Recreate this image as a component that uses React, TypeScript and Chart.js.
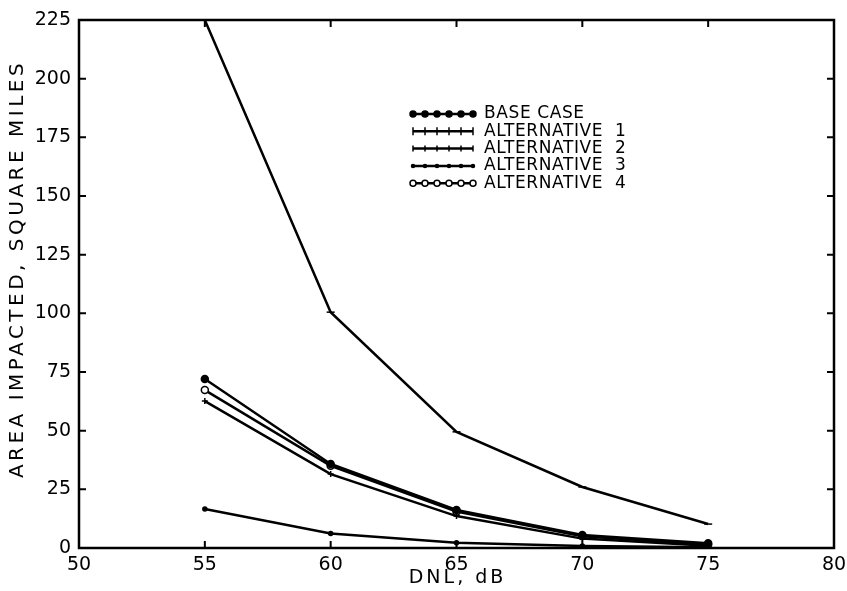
import React, { useEffect, useRef } from "react";
import { Chart, registerables } from "chart.js";

Chart.register(...registerables);

const dnl = [55, 60, 65, 70, 75];
const xTicks = [50, 55, 60, 65, 70, 75, 80];
const yTicks = [0, 25, 50, 75, 100, 125, 150, 175, 200, 225];

const baseCase = [72, 35.8, 16.2, 5.5, 2];
const alternative1 = [225, 100.5, 49.5, 26, 10.2];
const alternative2 = [62.6, 31.5, 13.6, 4, 1];
const alternative3 = [16.6, 6.2, 2.2, 0.8, 0.3];
const alternative4 = [67.3, 35, 15.5, 5, 1.5];

const seriesNames = ["BASE CASE", "ALTERNATIVE  1", "ALTERNATIVE  2", "ALTERNATIVE  3", "ALTERNATIVE  4"];
const xTitle = "DNL, dB";
const yTitle = "AREA IMPACTED, SQUARE MILES";

const FONT = "'DejaVu Sans', sans-serif";

type Marker = { style: string; radius: number; fill: string };
const markers: Marker[] = [
  { style: "circle", radius: 3.5, fill: "#000" },
  { style: "line", radius: 4, fill: "#000" },
  { style: "cross", radius: 3, fill: "#000" },
  { style: "circle", radius: 2, fill: "#000" },
  { style: "circle", radius: 3.5, fill: "#fff" },
];

const boxPlugin = {
  id: "boxTicks",
  afterDraw(chart: any) {
    const { ctx, chartArea, scales } = chart;
    const { left, right, top, bottom } = chartArea;
    ctx.save();
    ctx.strokeStyle = "#000";
    ctx.lineWidth = 2.5;
    ctx.strokeRect(left, top, right - left, bottom - top);
    ctx.lineWidth = 2;
    const t = 7;
    xTicks.forEach((v) => {
      const x = scales.x.getPixelForValue(v);
      ctx.beginPath();
      ctx.moveTo(x, bottom);
      ctx.lineTo(x, bottom - t);
      ctx.moveTo(x, top);
      ctx.lineTo(x, top + t);
      ctx.stroke();
    });
    yTicks.forEach((v) => {
      const y = scales.y.getPixelForValue(v);
      ctx.beginPath();
      ctx.moveTo(left, y);
      ctx.lineTo(left + t, y);
      ctx.moveTo(right, y);
      ctx.lineTo(right - t, y);
      ctx.stroke();
    });

    // axis titles
    ctx.fillStyle = "#000";
    ctx.textAlign = "center";
    ctx.textBaseline = "middle";
    ctx.font = `19px ${FONT}`;
    (ctx as any).letterSpacing = "3px";
    ctx.fillText(xTitle, (left + right) / 2 + 1, 578);
    ctx.save();
    ctx.font = `20px ${FONT}`;
    (ctx as any).letterSpacing = "3.5px";
    ctx.translate(18, (top + bottom) / 2 - 15);
    ctx.rotate(-Math.PI / 2);
    ctx.fillText(yTitle, 0, 0);
    ctx.restore();

    // legend
    const lx0 = 413;
    const lx1 = 473;
    const tx = 484;
    const y0 = 114;
    const dy = 17.3;
    ctx.font = `17px ${FONT}`;
    (ctx as any).letterSpacing = "0.6px";
    ctx.textAlign = "left";
    ctx.textBaseline = "middle";
    seriesNames.forEach((name, i) => {
      const y = y0 + i * dy;
      ctx.lineWidth = 2.5;
      ctx.beginPath();
      ctx.moveTo(lx0, y);
      ctx.lineTo(lx1, y);
      ctx.stroke();
      const m = markers[i];
      for (let k = 0; k < 6; k++) {
        const x = lx0 + (k * (lx1 - lx0)) / 5;
        ctx.lineWidth = 1.5;
        ctx.fillStyle = m.fill;
        if (m.style === "circle") {
          ctx.beginPath();
          ctx.arc(x, y, m.radius - 0.5, 0, Math.PI * 2);
          ctx.fill();
          ctx.stroke();
        } else {
          ctx.beginPath();
          ctx.moveTo(x, y - m.radius);
          ctx.lineTo(x, y + m.radius);
          ctx.stroke();
        }
      }
      ctx.fillStyle = "#000";
      ctx.fillText(name, tx, y);
    });
    ctx.restore();
  },
};

export default function App() {
  const ref = useRef<HTMLCanvasElement | null>(null);
  useEffect(() => {
    if (!ref.current) return;
    const sets = [baseCase, alternative1, alternative2, alternative3, alternative4];
    const chart = new Chart(ref.current, {
      type: "line",
      data: {
        datasets: sets.map((vals, i) => ({
          label: seriesNames[i],
          data: vals.map((v, j) => ({ x: dnl[j], y: v })),
          borderColor: "#000",
          borderWidth: 2.5,
          pointStyle: markers[i].style as any,
          pointRadius: markers[i].radius,
          pointBackgroundColor: markers[i].fill,
          pointBorderColor: "#000",
          pointBorderWidth: 1.5,
          tension: 0,
          fill: false,
        })),
      },
      options: {
        animation: false,
        responsive: false,
        layout: { padding: { top: 20, right: 13, left: 0, bottom: 0 } },
        plugins: { legend: { display: false }, tooltip: { enabled: false } },
        scales: {
          x: {
            type: "linear",
            min: 50,
            max: 80,
            afterBuildTicks: (s: any) => {
              s.ticks = xTicks.map((v) => ({ value: v }));
            },
            afterFit: (s: any) => {
              s.height = 43;
            },
            grid: { display: false },
            border: { display: false },
            ticks: { color: "#000", font: { family: FONT, size: 19 }, padding: -2, maxRotation: 0 },
            title: { display: false },
          },
          y: {
            type: "linear",
            min: 0,
            max: 225,
            afterBuildTicks: (s: any) => {
              s.ticks = yTicks.map((v) => ({ value: v }));
            },
            afterFit: (s: any) => {
              s.width = 79;
            },
            grid: { display: false },
            border: { display: false },
            ticks: { color: "#000", font: { family: FONT, size: 19 }, padding: 0 },
            title: { display: false },
          },
        },
      },
      plugins: [boxPlugin],
    });
    return () => chart.destroy();
  }, []);
  return (
    <div style={{ position: "fixed", left: 0, top: 0, width: 847, height: 591, background: "#fff" }}>
      <canvas ref={ref} width={847} height={591} style={{ display: "block" }} />
    </div>
  );
}
